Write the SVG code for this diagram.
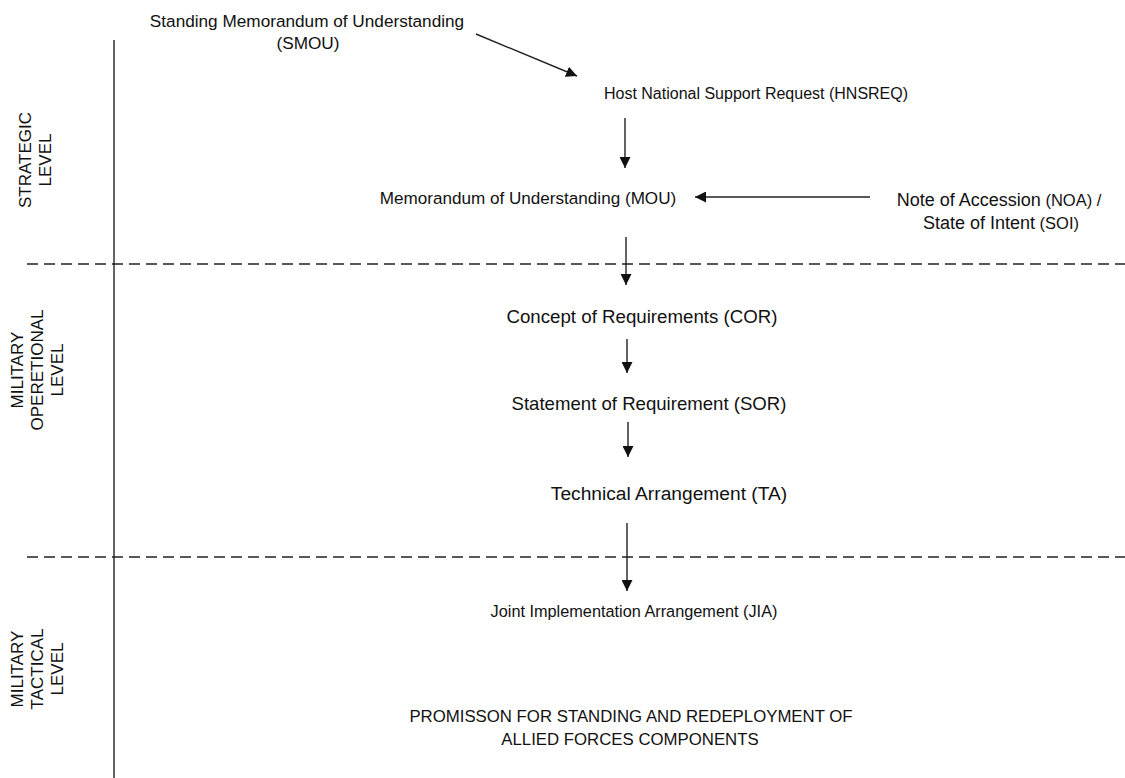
<svg xmlns="http://www.w3.org/2000/svg" width="1125" height="778" viewBox="0 0 1125 778">
<defs>
<marker id="ah" viewBox="0 0 10 10" refX="10" refY="5" markerWidth="11" markerHeight="11" markerUnits="userSpaceOnUse" orient="auto">
<path d="M0,0 L10,5 L0,10 z" fill="#111"/>
</marker>
<style>
text{font-family:"Liberation Sans",Arial,sans-serif;fill:#111;}
.t{text-anchor:middle;}
.l{font-size:17px;text-anchor:middle;}
.c{stroke:#222;stroke-width:1.4;fill:none;marker-end:url(#ah);}
.d{stroke:#222;stroke-width:1.6;stroke-dasharray:11,6;fill:none;}
</style>
</defs>
<rect width="1125" height="778" fill="#fff"/>
<g id="frame">
<line x1="114" y1="40" x2="114" y2="778" stroke="#222" stroke-width="1.4"/>
<line class="d" x1="27" y1="264" x2="1125" y2="264"/>
<line class="d" x1="27" y1="557" x2="1125" y2="557"/>
</g>
<g id="level-strategic">
<text class="l" transform="translate(31,160) rotate(-90)"><tspan x="0" y="0">STRATEGIC</tspan><tspan x="0" y="20">LEVEL</tspan></text>
</g>
<g id="level-operational">
<text class="l" transform="translate(23,370) rotate(-90)"><tspan x="0" y="0">MILITARY</tspan><tspan x="0" y="20">OPERETIONAL</tspan><tspan x="0" y="40">LEVEL</tspan></text>
</g>
<g id="level-tactical">
<text class="l" transform="translate(23,669) rotate(-90)"><tspan x="0" y="0">MILITARY</tspan><tspan x="0" y="20">TACTICAL</tspan><tspan x="0" y="40">LEVEL</tspan></text>
</g>
<g id="smou"><text class="t" x="307" y="27" style="font-size:17.2px">Standing Memorandum of Understanding</text><text class="t" x="308" y="49" style="font-size:17.2px">(SMOU)</text></g>
<g id="hnsreq"><text class="t" x="756" y="99" style="font-size:16px">Host National Support Request (HNSREQ)</text></g>
<g id="mou"><text class="t" x="528" y="204" style="font-size:17.1px">Memorandum of Understanding (MOU)</text></g>
<g id="noa"><text class="t" x="999" y="206" style="font-size:18px">Note of Accession<tspan style="font-size:16.5px"> (NOA) /</tspan></text><text class="t" x="1001" y="229" style="font-size:18px">State of Intent<tspan style="font-size:16.5px"> (SOI)</tspan></text></g>
<g id="cor"><text class="t" x="642" y="323" style="font-size:18.7px">Concept of Requirements (COR)</text></g>
<g id="sor"><text class="t" x="649" y="410" style="font-size:18.6px">Statement of Requirement (SOR)</text></g>
<g id="ta"><text class="t" x="669" y="500" style="font-size:19.2px">Technical Arrangement (TA)</text></g>
<g id="jia"><text class="t" x="634" y="617" style="font-size:16.3px">Joint Implementation Arrangement (JIA)</text></g>
<g id="promission"><text class="t" x="631" y="722" style="font-size:16.8px">PROMISSON FOR STANDING AND REDEPLOYMENT OF</text><text class="t" x="630" y="745" style="font-size:16.8px">ALLIED FORCES COMPONENTS</text></g>
<g id="connectors">
<line class="c" x1="476" y1="34" x2="577" y2="76"/>
<line class="c" x1="625" y1="118" x2="625" y2="168"/>
<line class="c" x1="870" y1="197" x2="695" y2="197"/>
<line class="c" x1="626" y1="237" x2="626" y2="285"/>
<line class="c" x1="627" y1="339" x2="627" y2="373"/>
<line class="c" x1="628" y1="422" x2="628" y2="457"/>
<line class="c" x1="627" y1="523" x2="627" y2="591"/>
</g>
</svg>
